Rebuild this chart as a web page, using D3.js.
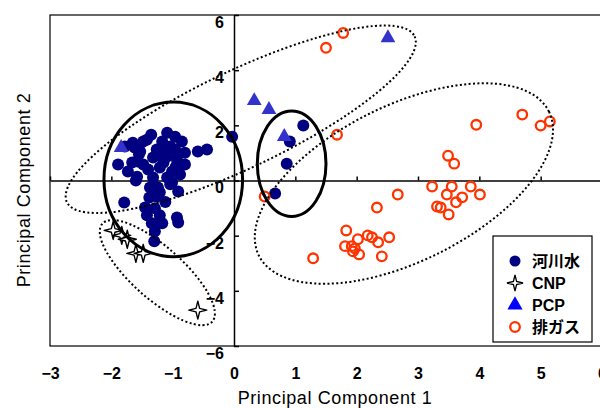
<!DOCTYPE html>
<html>
<head>
<meta charset="utf-8">
<script src="https://cdnjs.cloudflare.com/ajax/libs/d3/7.8.5/d3.min.js"></script>
<style>
  body { margin: 0; background: #fff; }
  text { font-family: "Liberation Sans", Arial, sans-serif; }
  .jp { font-family: "Liberation Sans", "Noto Sans CJK JP", sans-serif; }
</style>
</head>
<body>
<div id="chart-area"></div>
<script>
/*
*    PCA score plot
*/

// Data (Principal Component 1, Principal Component 2)
var riverWater = [
  [-0.03, 1.59], [1.13, 1.99], [0.91, 1.41], [0.86, 0.61], [0.67, -0.47],
  [-1.35, 1.66], [-1.09, 1.73], [-0.85, 1.41], [-1.65, 1.37], [-1.78, 1.23],
  [-1.48, 1.41], [-1.17, 1.41], [-1.04, 1.23], [-1.26, 1.12], [-1.53, 1.05],
  [-0.80, 1.01], [-0.59, 1.05], [-0.44, 1.12], [-1.89, 0.58], [-1.66, 0.65],
  [-1.48, 0.58], [-1.32, 0.83], [-1.09, 0.87], [-0.93, 0.76], [-0.80, 0.58],
  [-1.73, 0.33], [-1.58, 0.14], [-1.40, 0.40], [-1.21, 0.47], [-1.01, 0.33],
  [-0.88, 0.22], [-1.32, 0.11], [-1.09, 0.11], [-1.37, -0.25], [-1.24, -0.25],
  [-1.04, -0.14], [-0.91, -0.40], [-1.26, -0.58], [-1.79, -0.80], [-1.45, -0.98],
  [-1.29, -1.01], [-1.42, -1.26], [-1.21, -1.26], [-1.34, -1.55], [-1.17, -1.55],
  [-0.93, -1.34], [-0.91, -1.52], [-1.29, -1.84], [-1.30, -2.20], [-1.60, 0.00],
  [-1.01, -0.07], [-1.21, -0.43], [-1.29, -0.22], [-1.42, 1.48], [-0.96, 1.59],
  [-1.16, 1.23], [-1.57, 0.69], [-0.96, 1.12], [-1.55, 0.95], [-1.15, 0.65],
  [-1.38, -0.62], [-1.12, -0.78], [-0.95, 0.50], [-1.62, 1.20], [-1.20, 0.95]
];
var cnp = [
  [-1.97, -1.81], [-1.83, -1.99], [-1.74, -2.13], [-1.60, -2.64], [-1.48, -2.64], [-0.59, -4.70]
];
var pcp = [
  [0.33, 2.89], [0.57, 2.57], [0.82, 1.59], [2.51, 5.17], [-1.84, 1.19]
];
var exhaust = [
  [1.78, 5.35], [1.50, 4.81], [1.68, 1.66], [0.50, -0.58], [3.95, 2.02],
  [4.70, 2.39], [5.00, 1.99], [5.15, 2.14], [3.49, 0.90], [3.59, 0.61],
  [3.23, -0.22], [3.55, -0.22], [3.86, -0.22], [3.47, -0.51], [4.01, -0.51],
  [3.72, -0.61], [3.62, -0.79], [3.31, -0.94], [3.37, -0.98], [3.50, -1.23],
  [2.67, -0.51], [2.33, -0.98], [1.83, -1.81], [2.18, -1.99], [2.25, -2.06],
  [2.53, -2.06], [2.35, -2.24], [2.02, -2.13], [1.81, -2.38], [1.92, -2.38],
  [1.97, -2.46], [1.94, -2.57], [2.04, -2.68], [2.41, -2.75], [1.29, -2.82]
];

// Ellipses: centre in data units, radii in PC1 units, rotation in degrees
var solidRegions = [
  [-0.99, 0.04, 1.13, 1.26, 0],
  [0.94, 0.61, 0.56, 0.86, 0]
];
var dottedRegions = [
  [0.11, 2.22, 3.14, 0.79, -25.5],
  [-1.25, -3.34, 1.20, 0.42, 41.7],
  [2.77, -0.11, 2.64, 1.27, -26.4]
];

var legendNames = ["河川水", "CNP", "PCP", "排ガス"];
var xTicks = [-3, -2, -1, 0, 1, 2, 3, 4, 5, 6];
var yTicks = [-6, -4, -2, 0, 2, 4, 6];

var margin = {top: 15, right: -2, bottom: 62, left: 50};
var width = 552;
var height = 331;

var svg = d3.select("#chart-area").append("svg").attr("width", 600).attr("height", 408);
var g = svg.append("g").attr("transform", "translate(" + margin.left + ", " + margin.top + ")");

// Scales
var x = d3.scaleLinear().domain([-3, 6]).range([0, width]);
var y = d3.scaleLinear().domain([-6, 6]).range([height, 0]);
var k = x(1) - x(0);

var navy = "#000080", triBlue = "#3333cc", orange = "#ff3300";

// Frame
g.append("rect").attr("width", width).attr("height", height)
  .attr("fill", "none").attr("stroke", "black").attr("stroke-width", 1.2);

// Axes through the origin
var xAxisCall = d3.axisTop(x).tickValues(xTicks).tickSizeInner(4).tickSizeOuter(0).tickFormat("");
g.append("g").attr("class", "x axis").attr("transform", "translate(0, " + y(0) + ")").call(xAxisCall)
  .selectAll("path, line").attr("stroke-width", 1.5);

var xLabelCall = d3.axisBottom(x).tickValues(xTicks).tickSize(0).tickPadding(22);
var xl = g.append("g").attr("transform", "translate(0, " + height + ")").call(xLabelCall);
xl.select(".domain").remove();
xl.selectAll("text").attr("font-size", "16px").attr("font-weight", "bold")
  .attr("font-family", "Liberation Sans, Arial, sans-serif").attr("fill", "black");

var yAxisCall = d3.axisLeft(y).tickValues(yTicks).tickSizeInner(-5).tickSizeOuter(0).tickPadding(10);
var ya = g.append("g").attr("class", "y axis").attr("transform", "translate(" + x(0) + ", 0)").call(yAxisCall);
ya.selectAll("path, line").attr("stroke-width", 1.5);
ya.selectAll("text").attr("font-size", "16px").attr("font-weight", "bold").attr("dy", "0.78em")
  .attr("font-family", "Liberation Sans, Arial, sans-serif").attr("fill", "black");

// Labels
svg.append("text").attr("x", 335).attr("y", 404).attr("font-size", "18px").attr("letter-spacing", "0.6px")
  .attr("text-anchor", "middle").text("Principal Component 1");
svg.append("text").attr("transform", "translate(30, 190) rotate(-90)").attr("font-size", "18px")
  .attr("letter-spacing", "0.6px").attr("text-anchor", "middle").text("Principal Component 2");

// Star symbol for CNP
var star = function(r, w) {
  return "M0," + (-r) + "L" + w + "," + (-w) + "L" + r + ",0L" + w + "," + w + "L0," + r +
    "L" + (-w) + "," + w + "L" + (-r) + ",0L" + (-w) + "," + (-w) + "Z";
};
var tri = d3.symbol().type(d3.symbolTriangle).size(95);

// Points
g.selectAll("circle.river").data(riverWater).enter().append("circle").attr("class", "river")
  .attr("cx", (d) => { return x(d[0]); }).attr("cy", (d) => { return y(d[1]); })
  .attr("r", 6).attr("fill", navy);

g.selectAll("path.pcp").data(pcp).enter().append("path").attr("class", "pcp")
  .attr("transform", (d) => { return "translate(" + x(d[0]) + "," + y(d[1]) + ")"; })
  .attr("d", tri).attr("fill", triBlue);

g.selectAll("path.cnp").data(cnp).enter().append("path").attr("class", "cnp")
  .attr("transform", (d) => { return "translate(" + x(d[0]) + "," + y(d[1]) + ")"; })
  .attr("d", star(9, 1.8)).attr("fill", "white").attr("stroke", "black").attr("stroke-width", 1.4)
  .attr("stroke-linejoin", "round");

g.selectAll("circle.exh").data(exhaust).enter().append("circle").attr("class", "exh")
  .attr("cx", (d) => { return x(d[0]); }).attr("cy", (d) => { return y(d[1]); })
  .attr("r", 4.8).attr("fill", "none").attr("stroke", orange).attr("stroke-width", 2.3);

// Ellipses
var ellipse = function(sel) {
  sel.attr("transform", (d) => { return "translate(" + x(d[0]) + "," + y(d[1]) + ") rotate(" + d[4] + ")"; })
    .attr("rx", (d) => { return d[2] * k; }).attr("ry", (d) => { return d[3] * k; })
    .attr("fill", "none").attr("stroke", "black");
};
g.selectAll("ellipse.dotted").data(dottedRegions).enter().append("ellipse").attr("class", "dotted")
  .call(ellipse).attr("stroke-width", 2).attr("stroke-dasharray", "2,2.4");
g.selectAll("ellipse.solid").data(solidRegions).enter().append("ellipse").attr("class", "solid")
  .call(ellipse).attr("stroke-width", 3);

// Legend
var legend = svg.append("g").attr("transform", "translate(493, 236)");
legend.append("rect").attr("width", 99).attr("height", 106).attr("fill", "white")
  .attr("stroke", "black").attr("stroke-width", 1.2);

legendNames.forEach((name, i) => {
  var row = legend.append("g").attr("transform", "translate(22, " + (25 + i * 22) + ")");
  if (i === 0) {
    row.append("circle").attr("r", 5.5).attr("fill", navy);
  } else if (i === 1) {
    row.append("path").attr("d", star(8, 1.6)).attr("fill", "white").attr("stroke", "black").attr("stroke-width", 1.3);
  } else if (i === 2) {
    row.append("path").attr("d", d3.symbol().type(d3.symbolTriangle).size(100)).attr("fill", "#0000ff");
  } else {
    row.append("circle").attr("r", 4.8).attr("fill", "none").attr("stroke", orange).attr("stroke-width", 2.3);
  }
  row.append("text").attr("class", "jp").attr("x", 17).attr("y", 6).attr("font-size", "16px")
    .attr("font-weight", "bold").text(name);
});
</script>
</body>
</html>
